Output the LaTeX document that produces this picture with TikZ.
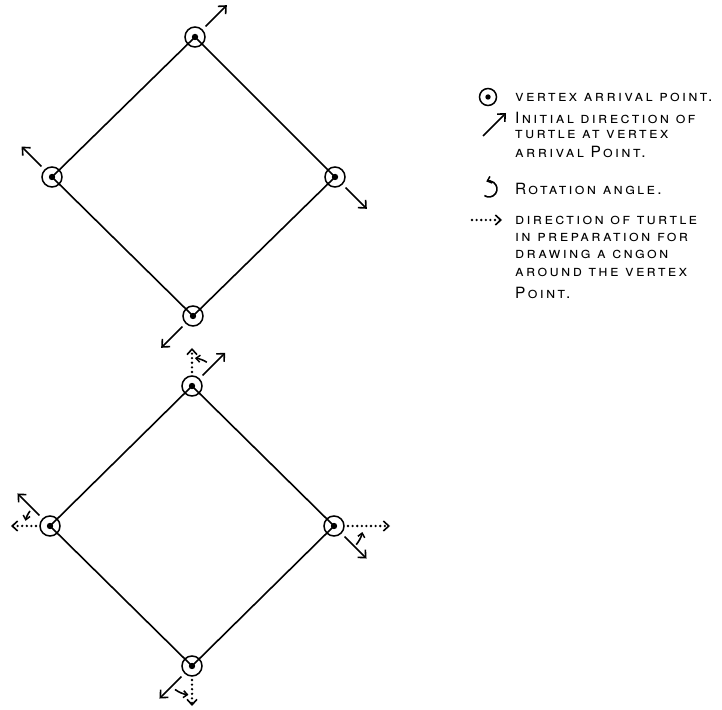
\documentclass[tikz,border=0pt]{standalone}
\usepackage{fontspec}
\setmainfont{TeX Gyre Heros}[LetterSpace=15]
\usetikzlibrary{arrows.meta,calc}
\begin{document}
\begin{tikzpicture}[x=1pt,y=1pt,
  vtx/.style={draw,circle,line width=1.5pt,minimum size=20pt,inner sep=0pt},
  edge/.style={line width=1.6pt},
  dirarrow/.style={line width=1.6pt,-{Straight Barb[length=6pt,width=11pt,line width=1.6pt]}},
  prep/.style={line width=2.6pt,line cap=round,dash pattern=on 0pt off 4.6pt,-{Straight Barb[length=5.5pt,width=10pt,line width=1.6pt]}},
  rot/.style={line width=1.6pt,-{Straight Barb[length=4pt,width=7pt,line width=1.5pt]}},
  lbl/.style={anchor=west,font=\fontsize{15.5}{17}\selectfont\scshape,inner sep=0pt}]
\useasboundingbox (0,0) rectangle (722,709);

% ---- top diamond ----
\node[vtx] (t1) at (195,672) {};
\node[vtx] (l1) at (52,532) {};
\node[vtx] (r1) at (335,532) {};
\node[vtx] (b1) at (193,393) {};
\foreach \v in {t1,l1,r1,b1} \fill (\v) circle (3.2);
\draw[edge] (t1.center) -- (r1.center) -- (b1.center) -- (l1.center) -- cycle;
\draw[dirarrow] ($(t1)+(45:15)$) -- ($(t1)+(45:45)$);
\draw[dirarrow] ($(l1)+(135:15)$) -- ($(l1)+(135:43)$);
\draw[dirarrow] ($(r1)+(-45:15)$) -- ($(r1)+(-45:45)$);
\draw[dirarrow] ($(b1)+(-135:15)$) -- ($(b1)+(-135:45)$);

% ---- bottom diamond ----
\node[vtx] (t2) at (192,323) {};
\node[vtx] (l2) at (50,183) {};
\node[vtx] (r2) at (334,183) {};
\node[vtx] (b2) at (192,43) {};
\foreach \v in {t2,l2,r2,b2} \fill (\v) circle (3.2);
\draw[edge] (t2.center) -- (r2.center) -- (b2.center) -- (l2.center) -- cycle;
% top
\draw[dirarrow] ($(t2)+(45:15)$) -- ($(t2)+(45:47)$);
\draw[prep] ($(t2)+(90:14)$) -- ($(t2)+(90:38)$);
\draw[rot] ($(t2)+(58:28)$) arc[start angle=58,end angle=84,radius=28];
% left
\draw[dirarrow] ($(l2)+(135:15)$) -- ($(l2)+(135:46)$);
\draw[prep] ($(l2)+(180:14)$) -- ($(l2)+(180:39)$);
\draw[rot] ($(l2)+(143:25)$) arc[start angle=143,end angle=168,radius=25];
% right
\draw[dirarrow] ($(r2)+(-45:15)$) -- ($(r2)+(-45:46)$);
\draw[prep] ($(r2)+(0:14)$) -- ($(r2)+(0:56)$);
\draw[rot] ($(r2)+(-40:29)$) arc[start angle=-40,end angle=-12,radius=29];
% bottom
\draw[dirarrow] ($(b2)+(-135:15)$) -- ($(b2)+(-135:46)$);
\draw[prep] ($(b2)+(-90:14)$) -- ($(b2)+(-90:40)$);
\draw[rot] ($(b2)+(-126:29)$) arc[start angle=-126,end angle=-97,radius=29];

% ---- legend ----
\node[vtx,minimum size=17pt] (lc) at (488,612) {};
\fill (lc) circle (2.7);
\node[lbl] (k1) at (515,612) {vertex arrival point.};

\coordinate (la0) at (483,573);
\coordinate (la1) at (506,596);
\draw[dirarrow] (la0) -- (la1);
\node[lbl] (k2) at (515,591) {Initial direction of};
\node[lbl] (k3) at (515,574) {turtle at vertex};
\node[lbl] (k4) at (515,557) {arrival Point.};

\coordinate (lr) at (489,520);
\draw[rot] ($(lr)+(-125:8)$) arc[start angle=-125,end angle=110,radius=8];
\node[lbl] (k5) at (515,520) {Rotation angle.};

\coordinate (ld0) at (472,489);
\coordinate (ld1) at (502,489);
\draw[prep] (ld0) -- (ld1);
\node[lbl] (k6) at (515,489) {direction of turtle};
\node[lbl] (k7) at (515,472) {in preparation for};
\node[lbl] (k8) at (515,455) {drawing a cngon};
\node[lbl] (k9) at (515,437) {around the vertex};
\node[lbl] (k10) at (515,416) {Point.};
\end{tikzpicture}
\end{document}
